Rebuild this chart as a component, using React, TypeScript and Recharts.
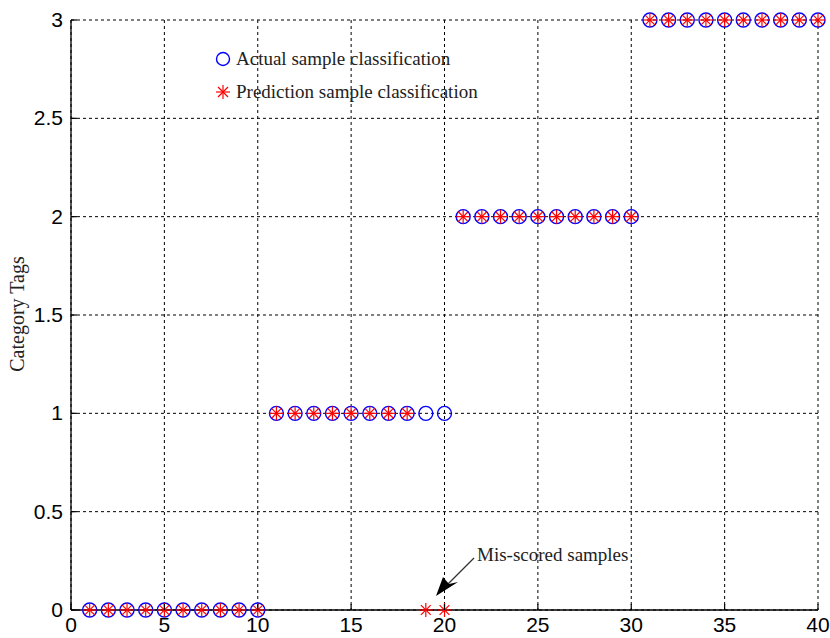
import React from 'react';
import {
    ScatterChart,
    Scatter,
    XAxis,
    YAxis,
    CartesianGrid,
} from 'recharts';

// sample numbers 1..40
const samples = [
    1, 2, 3, 4, 5, 6, 7, 8, 9, 10,
    11, 12, 13, 14, 15, 16, 17, 18, 19, 20,
    21, 22, 23, 24, 25, 26, 27, 28, 29, 30,
    31, 32, 33, 34, 35, 36, 37, 38, 39, 40,
];
const actualTags = [
    0, 0, 0, 0, 0, 0, 0, 0, 0, 0,
    1, 1, 1, 1, 1, 1, 1, 1, 1, 1,
    2, 2, 2, 2, 2, 2, 2, 2, 2, 2,
    3, 3, 3, 3, 3, 3, 3, 3, 3, 3,
];
const predictedTags = [
    0, 0, 0, 0, 0, 0, 0, 0, 0, 0,
    1, 1, 1, 1, 1, 1, 1, 1, 0, 0,
    2, 2, 2, 2, 2, 2, 2, 2, 2, 2,
    3, 3, 3, 3, 3, 3, 3, 3, 3, 3,
];
const xTicks = [0, 5, 10, 15, 20, 25, 30, 35, 40];
const yTicks = [0, 0.5, 1, 1.5, 2, 2.5, 3];

const actualData = samples.map((s, i) => ({ x: s, y: actualTags[i] }));
const predictedData = samples.map((s, i) => ({ x: s, y: predictedTags[i] }));

const BLUE = '#0000ff';
const RED = '#ff0000';
const TEXT = '#222';
const SERIF = '"Liberation Serif", "DejaVu Serif", serif';
const SANS = '"Liberation Sans", Arial, sans-serif';

const CircleMark = (props: any) => {
    const { cx, cy } = props;
    return <circle cx={cx} cy={cy} r={7} fill="none" stroke={BLUE} strokeWidth={1.4} />;
};

const StarMark = (props: any) => {
    const { cx, cy } = props;
    const r = 7;
    const d = r * 0.7;
    return (
        <g stroke={RED} strokeWidth={1.2}>
            <line x1={cx - r} y1={cy} x2={cx + r} y2={cy} />
            <line x1={cx} y1={cy - r} x2={cx} y2={cy + r} />
            <line x1={cx - d} y1={cy - d} x2={cx + d} y2={cy + d} />
            <line x1={cx - d} y1={cy + d} x2={cx + d} y2={cy - d} />
        </g>
    );
};

const XTick = (props: any) => {
    const { x, y, payload } = props;
    return (
        <g>
            <line x1={x} y1={y} x2={x} y2={y - 6} stroke="#000" strokeWidth={1.2} />
            <text x={x} y={y + 22} textAnchor="middle" fontFamily={SANS} fontSize={21} fill="#000">
                {payload.value}
            </text>
        </g>
    );
};

const YTick = (props: any) => {
    const { x, y, payload } = props;
    return (
        <g>
            <line x1={x} y1={y} x2={x + 6} y2={y} stroke="#000" strokeWidth={1.2} />
            <text x={x - 8} y={y + 7} textAnchor="end" fontFamily={SANS} fontSize={21} fill="#000">
                {payload.value}
            </text>
        </g>
    );
};

export default function App() {
    return (
        <div style={{ position: 'absolute', left: 0, top: 0, width: 830, height: 638, background: '#fff' }}>
            <ScatterChart
                width={830}
                height={638}
                margin={{ top: 20, right: 12, left: 21, bottom: 0 }}
            >
                <CartesianGrid stroke="#000" strokeDasharray="3 3" strokeWidth={1} />
                <XAxis
                    type="number"
                    dataKey="x"
                    domain={[0, 40]}
                    ticks={xTicks}
                    height={28}
                    tickLine={false}
                    tickSize={0}
                    tickMargin={0}
                    axisLine={{ stroke: '#000', strokeWidth: 1.3 }}
                    tick={<XTick />}
                    interval={0}
                />
                <YAxis
                    type="number"
                    dataKey="y"
                    domain={[0, 3]}
                    ticks={yTicks}
                    width={50}
                    tickLine={false}
                    tickSize={0}
                    tickMargin={0}
                    axisLine={{ stroke: '#000', strokeWidth: 1.3 }}
                    tick={<YTick />}
                    interval={0}
                />
                <Scatter
                    name="Actual sample classification"
                    data={actualData}
                    shape={<CircleMark />}
                    isAnimationActive={false}
                />
                <Scatter
                    name="Prediction sample classification"
                    data={predictedData}
                    shape={<StarMark />}
                    isAnimationActive={false}
                />
            </ScatterChart>
            <svg
                width={830}
                height={638}
                style={{ position: 'absolute', left: 0, top: 0, pointerEvents: 'none' }}
            >
                {/* legend */}
                <circle cx={223} cy={59} r={6.5} fill="none" stroke={BLUE} strokeWidth={1.4} />
                <text x={236} y={65} fontFamily={SERIF} fontSize={19} fill={TEXT}>Actual sample classification</text>
                <g stroke={RED} strokeWidth={1.2}>
                    <line x1={216} y1={92} x2={230} y2={92} />
                    <line x1={223} y1={85} x2={223} y2={99} />
                    <line x1={218} y1={87} x2={228} y2={97} />
                    <line x1={218} y1={97} x2={228} y2={87} />
                </g>
                <text x={236} y={98} fontFamily={SERIF} fontSize={19} fill={TEXT}>Prediction sample classification</text>

                <text
                    transform="translate(24, 314) rotate(-90)"
                    textAnchor="middle"
                    fontFamily={SERIF}
                    fontSize={20}
                    fill={TEXT}
                >
                    Category Tags
                </text>
                {/* annotation for the two mis-scored samples */}
                <text x={477} y={561} fontFamily={SERIF} fontSize={19} fill={TEXT}>Mis-scored samples</text>
                <line x1={474} y1={558} x2={446} y2={586} stroke="#333" strokeWidth={1.2} />
                <polygon points="436,596 443,577 449,584 458,582" fill="#000" />
            </svg>
        </div>
    );
}
